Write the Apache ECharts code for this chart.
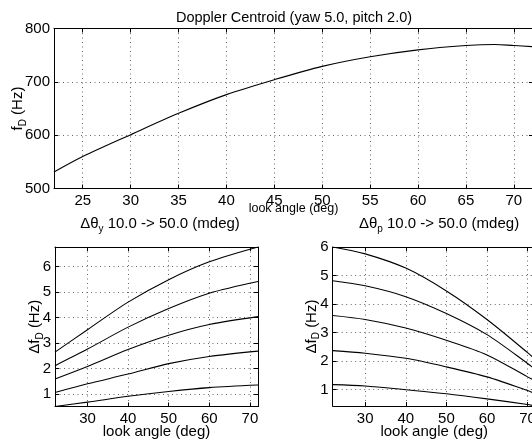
<!DOCTYPE html>
<html>
<head>
<meta charset="utf-8">
<script src="https://cdn.jsdelivr.net/npm/echarts@6/dist/echarts.min.js"></script>
<style>
html,body{margin:0;padding:0;background:#fff;}
#c{width:532px;height:446px;}
</style>
</head>
<body>
<div id="c"></div>
<script>
// ---- data ----
const topX = [22, 25, 30, 35, 40, 45, 50, 55, 60, 65, 68, 70, 72];
const topF = [531, 560, 601, 641, 676, 704, 729, 747, 760, 768, 770, 768, 766];

const yawX = [22, 30, 40, 50, 60, 72];
const yaw10 = [0.51, 0.68, 0.91, 1.10, 1.25, 1.35];
const yaw20 = [1.06, 1.40, 1.78, 2.19, 2.47, 2.68];
const yaw30 = [1.59, 2.08, 2.74, 3.30, 3.72, 4.03];
const yaw40 = [2.11, 2.76, 3.62, 4.35, 4.95, 5.41];
const yaw50 = [2.64, 3.52, 4.60, 5.48, 6.18, 6.76];

const pitchX = [22, 30, 40, 50, 60, 70, 72];
const pitch10 = [1.18, 1.13, 1.00, 0.86, 0.68, 0.48, 0.43];
const pitch20 = [2.37, 2.28, 2.10, 1.80, 1.45, 0.97, 0.85];
const pitch30 = [3.60, 3.46, 3.16, 2.73, 2.22, 1.45, 1.30];
const pitch40 = [4.82, 4.64, 4.26, 3.67, 2.93, 1.92, 1.70];
const pitch50 = [6.00, 5.76, 5.26, 4.46, 3.46, 2.30, 2.05];

const topXTicks = [25, 30, 35, 40, 45, 50, 55, 60, 65, 70];
const topYTicks = [500, 600, 700, 800];
const botXTicks = [30, 40, 50, 60, 70];
const botYTicks = [1, 2, 3, 4, 5, 6];

const titleText = 'Doppler Centroid (yaw 5.0, pitch 2.0)';
const xName = 'look angle (deg)';

// ---- chart ----
const FONT = 'Liberation Sans, Arial, Helvetica, sans-serif';
const chart = echarts.init(document.getElementById('c'), null, {renderer: 'canvas'});

const grids = [
  {left: 54, top: 28.5, width: 479, height: 160, outerBoundsMode: 'none'},
  {left: 55, top: 247, width: 203, height: 159.5, outerBoundsMode: 'none'},
  {left: 332.7, top: 247, width: 203, height: 159, outerBoundsMode: 'none'}
];

const gridLine = {show: true, lineStyle: {color: '#666', type: [1, 3.5], width: 1}};
const rich = {
  a: {fontFamily: FONT, fontSize: 15, fontWeight: 'normal', color: '#000', lineHeight: 20},
  s: {fontFamily: FONT, fontSize: 10, fontWeight: 'normal', color: '#000', verticalAlign: 'bottom', lineHeight: 20}
};

function xAxes(gi, min, max, ticks, name) {
  return [
    {
      type: 'value', gridIndex: gi, min: min, max: max, position: 'bottom',
      name: name, nameLocation: 'middle', nameGap: gi === 0 ? 14 : 18, nameMoveOverlap: false,
      nameTextStyle: {fontFamily: FONT, fontSize: gi === 0 ? 12.5 : 15, color: '#000'},
      axisLine: {show: true, onZero: false, lineStyle: {color: '#000', width: 1}},
      axisTick: {show: true, inside: true, length: 4, customValues: ticks, lineStyle: {color: '#000'}},
      axisLabel: {show: true, customValues: ticks, margin: 5, fontFamily: FONT, fontSize: 15, color: '#000'},
      splitLine: gridLine
    },
    {
      type: 'value', gridIndex: gi, min: min, max: max, position: 'top',
      axisLine: {show: true, onZero: false, lineStyle: {color: '#000', width: 1}},
      axisTick: {show: true, inside: true, length: 4, customValues: ticks, lineStyle: {color: '#000'}},
      axisLabel: {show: false},
      splitLine: {show: false}
    }
  ];
}
function yAxes(gi, min, max, ticks, name, gap) {
  return [
    {
      type: 'value', gridIndex: gi, min: min, max: max, position: 'left',
      name: name, nameLocation: 'middle', nameGap: gap, nameRotate: 90, nameMoveOverlap: false,
      nameTextStyle: {rich: rich},
      axisLine: {show: true, onZero: false, lineStyle: {color: '#000', width: 1}},
      axisTick: {show: true, inside: true, length: 4, customValues: ticks, lineStyle: {color: '#000'}},
      axisLabel: {show: true, customValues: ticks, margin: 4, fontFamily: FONT, fontSize: 15, color: '#000'},
      splitLine: gridLine
    },
    {
      type: 'value', gridIndex: gi, min: min, max: max, position: 'right',
      axisLine: {show: true, onZero: false, lineStyle: {color: '#000', width: 1}},
      axisTick: {show: true, inside: true, length: 4, customValues: ticks, lineStyle: {color: '#000'}},
      axisLabel: {show: false},
      splitLine: {show: false}
    }
  ];
}

const xAxis = [].concat(
  xAxes(0, 22, 72, topXTicks, xName),
  xAxes(1, 22, 72, botXTicks, xName),
  xAxes(2, 22, 72, botXTicks, xName)
);
const yAxis = [].concat(
  yAxes(0, 500, 800, topYTicks, '{a|f}{s|D}{a| (Hz)}', 26),
  yAxes(1, 0.51, 6.76, botYTicks, '{a|Δf}{s|D}{a| (Hz)}', 10),
  yAxes(2, 0.43, 6.0, botYTicks, '{a|Δf}{s|D}{a| (Hz)}', 11)
);

function zip(xs, ys) { return xs.map((x, i) => [x, ys[i]]); }
function line(xi, yi, xs, ys) {
  return {
    type: 'line', xAxisIndex: xi, yAxisIndex: yi, data: zip(xs, ys),
    showSymbol: false, smooth: 0.3,
    lineStyle: {color: '#000', width: 1.1}, silent: true, animation: false
  };
}

const series = [
  line(0, 0, topX, topF),
  line(2, 2, yawX, yaw10), line(2, 2, yawX, yaw20), line(2, 2, yawX, yaw30),
  line(2, 2, yawX, yaw40), line(2, 2, yawX, yaw50),
  line(4, 4, pitchX, pitch10), line(4, 4, pitchX, pitch20), line(4, 4, pitchX, pitch30),
  line(4, 4, pitchX, pitch40), line(4, 4, pitchX, pitch50)
];

chart.setOption({
  backgroundColor: '#fff',
  animation: false,
  title: [
    {text: titleText, left: 289, top: 5, textAlign: 'center',
     textStyle: {fontFamily: FONT, fontSize: 14.5, fontWeight: 'normal', color: '#000'}},
    {text: '{a|Δθ}{s|y}{a| 10.0 -> 50.0 (mdeg)}', left: 155, top: 209, textAlign: 'center',
     textStyle: {rich: rich}},
    {text: '{a|Δθ}{s|p}{a| 10.0 -> 50.0 (mdeg)}', left: 434, top: 209, textAlign: 'center',
     textStyle: {rich: rich}}
  ],
  grid: grids,
  xAxis: xAxis,
  yAxis: yAxis,
  series: series
});
</script>
</body>
</html>
